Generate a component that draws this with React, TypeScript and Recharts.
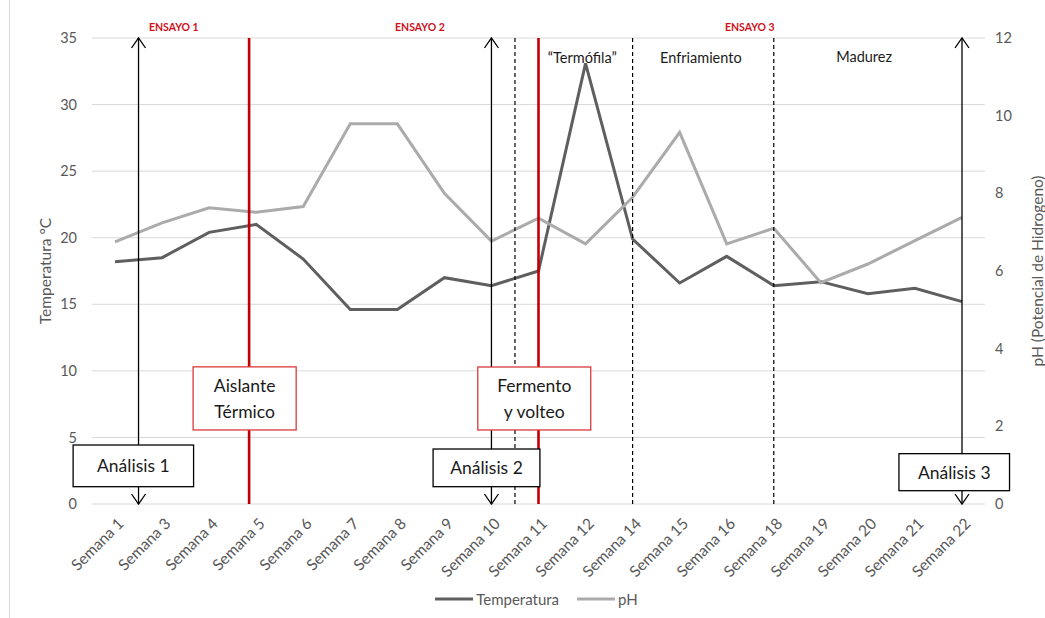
import React from 'react';
import {
  LineChart,
  Line,
  XAxis,
  YAxis,
  CartesianGrid,
  Legend,
  ReferenceLine,
  ReferenceArea,
  ReferenceDot,
} from 'recharts';

// Weeks on the x axis (category labels)
const weeks = [
  'Semana 1', 'Semana 3', 'Semana 4', 'Semana 5', 'Semana 6', 'Semana 7', 'Semana 8',
  'Semana 9', 'Semana 10', 'Semana 11', 'Semana 12', 'Semana 14', 'Semana 15',
  'Semana 16', 'Semana 18', 'Semana 19', 'Semana 20', 'Semana 21', 'Semana 22',
];

// Temperature (°C), left axis
const temperatura = [
  18.2, 18.5, 20.4, 21.0, 18.4, 14.6, 14.6, 17.0, 16.4, 17.5,
  33.1, 19.9, 16.6, 18.6, 16.4, 16.7, 15.8, 16.2, 15.2,
];

// pH, right axis
const ph = [
  6.75, 7.24, 7.63, 7.51, 7.66, 9.79, 9.79, 8.0, 6.77, 7.36,
  6.7, 7.9, 9.57, 6.7, 7.1, 5.7, 6.18, 6.78, 7.38,
];

const tempTicks = [0, 5, 10, 15, 20, 25, 30, 35];
const phTicks = [0, 2, 4, 6, 8, 10, 12];

// Annotation markers, expressed as week index (0 = Semana 1)
const analysisMarks = [0.5, 8, 18];
const redMarks = [2.85, 9];
const dashedMarks = [8.5, 11, 14];

const FONT = 'Lato, "Open Sans", sans-serif';
const GRAY = '#595959';
const TEMP_COLOR = '#5f5f5f';
const PH_COLOR = '#ababab';
const RED = '#c00000';
const PAD = { left: 23, right: 23 };

const data = weeks.map((semana, i) => ({
  semana,
  temperatura: temperatura[i],
  ph: ph[i],
}));

// annotation boxes: [x1, x2] in week index, [y1, y2] in °C
const boxes = [
  { lines: ['Análisis 1'], x: [-0.89, 1.67], y: [4.43, 1.3], color: '#000000' },
  { lines: ['Aislante', 'Térmico'], x: [1.66, 3.85], y: [10.3, 5.56], color: '#d93a3a' },
  { lines: ['Análisis 2'], x: [6.76, 9.03], y: [4.13, 1.3], color: '#000000' },
  { lines: ['Fermento', 'y volteo'], x: [7.71, 10.11], y: [10.29, 5.56], color: '#d93a3a' },
  { lines: ['Análisis 3'], x: [16.66, 19.01], y: [3.78, 1.0], color: '#000000' },
];

const phaseLabels = [
  { text: '\u201CTermófila\u201D', x: 9.93, y: 33.5 },
  { text: 'Enfriamiento', x: 12.45, y: 33.5 },
  { text: 'Madurez', x: 15.92, y: 33.6 },
];

const ensayoLabels = [
  { text: 'ENSAYO 1', x: 1.25, y: 35.8 },
  { text: 'ENSAYO 2', x: 6.48, y: 35.8 },
  { text: 'ENSAYO 3', x: 13.49, y: 35.8 },
];

const ArrowLine = (props: any) => {
  const { x1, y1, y2 } = props;
  const top = Math.min(y1, y2);
  const bottom = Math.max(y1, y2);
  return (
    <g>
      <line x1={x1} x2={x1} y1={top} y2={bottom} stroke="#000" strokeWidth={1.3} />
      <polyline
        points={`${x1 - 7},${top + 10} ${x1},${top} ${x1 + 7},${top + 10}`}
        fill="none"
        stroke="#000"
        strokeWidth={1.3}
      />
      <polyline
        points={`${x1 - 7},${bottom - 10} ${x1},${bottom} ${x1 + 7},${bottom - 10}`}
        fill="none"
        stroke="#000"
        strokeWidth={1.3}
      />
    </g>
  );
};

const makeBox = (lines: string[], color: string) => (props: any) => {
  const { x, y, width, height } = props;
  const cx = x + width / 2;
  const cy = y + height / 2;
  const lh = 26;
  return (
    <g>
      <rect x={x} y={y} width={width} height={height} fill="#fff" stroke={color} strokeWidth={1.3} />
      {lines.map((l, i) => (
        <text
          key={i}
          x={cx}
          y={cy + (i - (lines.length - 1) / 2) * lh}
          textAnchor="middle"
          dominantBaseline="central"
          fontFamily={FONT}
          fontSize={17.5}
          fill="#1a1a1a"
        >
          {l}
        </text>
      ))}
    </g>
  );
};

const WeekTick = (props: any) => {
  const { x, y, payload } = props;
  const ax = x + 2;
  const ay = y + 5;
  return (
    <text
      x={ax}
      y={ay}
      dy="0.7em"
      transform={`rotate(-45, ${ax}, ${ay})`}
      textAnchor="end"
      fill={GRAY}
      fontSize={15.5}
      fontFamily={FONT}
    >
      {payload.value}
    </text>
  );
};

const AxisTitle = ({ viewBox, value, dx }: any) => {
  const cx = viewBox.x + dx;
  const cy = viewBox.y + viewBox.height / 2;
  return (
    <text
      x={cx}
      y={cy}
      transform={`rotate(-90, ${cx}, ${cy})`}
      textAnchor="middle"
      dominantBaseline="central"
      fill={GRAY}
      fontSize={15.5}
      fontFamily={FONT}
    >
      {value}
    </text>
  );
};

const legendItems = [
  { name: 'Temperatura', color: TEMP_COLOR },
  { name: 'pH', color: PH_COLOR },
];

const renderLegend = () => (
  <div
    style={{
      display: 'flex',
      justifyContent: 'center',
      alignItems: 'center',
      gap: 18,
      height: 22,
      paddingLeft: 8,
      fontFamily: FONT,
      fontSize: 15,
      color: GRAY,
    }}
  >
    {legendItems.map((it) => (
      <div key={it.name} style={{ display: 'flex', alignItems: 'center' }}>
        <svg width={38} height={6}>
          <line x1={0} y1={3} x2={38} y2={3} stroke={it.color} strokeWidth={3} />
        </svg>
        <span style={{ marginLeft: 3 }}>{it.name}</span>
      </div>
    ))}
  </div>
);

export default function App() {
  return (
    <div style={{ position: 'absolute', left: 0, top: 0, width: 1045, height: 618, background: '#fff' }}>
      <div style={{ position: 'absolute', left: 9, top: 0, width: 1, height: 618, background: '#d9d9d9' }} />
      <LineChart
        width={1045}
        height={618}
        data={data}
        margin={{ top: 38, right: 0, bottom: 8, left: 20 }}
        style={{ fontFamily: FONT }}
      >
        <CartesianGrid xAxisId="cat" yAxisId="left" vertical={false} stroke="#d9d9d9" strokeWidth={1} />
        <XAxis
          xAxisId="cat"
          dataKey="semana"
          interval={0}
          padding={PAD}
          axisLine={false}
          tickLine={false}
          height={84}
          tick={<WeekTick />}
        />
        <XAxis
          xAxisId="num"
          type="number"
          domain={[0, weeks.length - 1]}
          padding={PAD}
          hide
          allowDataOverflow
        />
        <YAxis
          yAxisId="left"
          domain={[0, 35]}
          ticks={tempTicks}
          width={72}
          axisLine={false}
          tickLine={false}
          tickMargin={9}
          tick={{ fill: GRAY, fontSize: 14.5, fontFamily: FONT }}
          label={<AxisTitle value="Temperatura °C" dx={25} />}
        />
        <YAxis
          yAxisId="right"
          orientation="right"
          domain={[0, 12]}
          ticks={phTicks}
          width={60}
          axisLine={false}
          tickLine={false}
          tickMargin={4}
          tick={{ fill: GRAY, fontSize: 14.5, fontFamily: FONT }}
          label={<AxisTitle value="pH (Potencial de Hidrogeno)" dx={52} />}
        />
        <Legend verticalAlign="bottom" content={renderLegend} />

        <Line
          xAxisId="cat"
          yAxisId="left"
          dataKey="temperatura"
          name="Temperatura"
          stroke={TEMP_COLOR}
          strokeWidth={3}
          dot={false}
          isAnimationActive={false}
        />
        <Line
          xAxisId="cat"
          yAxisId="right"
          dataKey="ph"
          name="pH"
          stroke={PH_COLOR}
          strokeWidth={3}
          dot={false}
          isAnimationActive={false}
        />

        {dashedMarks.map((m) => (
          <ReferenceLine
            key={`d${m}`}
            xAxisId="num"
            yAxisId="left"
            x={m}
            stroke="#000"
            strokeWidth={1.2}
            strokeDasharray="4 3"
            zIndex={450}
          />
        ))}
        {redMarks.map((m) => (
          <ReferenceLine
            key={`r${m}`}
            xAxisId="num"
            yAxisId="left"
            x={m}
            stroke={RED}
            strokeWidth={2.6}
            zIndex={460}
          />
        ))}
        {analysisMarks.map((m) => (
          <ReferenceLine
            key={`a${m}`}
            xAxisId="num"
            yAxisId="left"
            x={m}
            shape={ArrowLine}
            zIndex={470}
          />
        ))}
        {boxes.map((b, i) => (
          <ReferenceArea
            key={`b${i}`}
            xAxisId="num"
            yAxisId="left"
            x1={b.x[0]}
            x2={b.x[1]}
            y1={b.y[0]}
            y2={b.y[1]}
            ifOverflow="visible"
            shape={makeBox(b.lines, b.color)}
            zIndex={1500}
          />
        ))}
        {phaseLabels.map((p) => (
          <ReferenceDot
            key={p.text}
            xAxisId="num"
            yAxisId="left"
            x={p.x}
            y={p.y}
            r={0}
            fill="none"
            stroke="none"
            ifOverflow="visible"
            label={{ value: p.text, position: 'center', fill: '#1a1a1a', fontSize: 14.5, fontFamily: FONT }}
          />
        ))}
        {ensayoLabels.map((p) => (
          <ReferenceDot
            key={p.text}
            xAxisId="num"
            yAxisId="left"
            x={p.x}
            y={p.y}
            r={0}
            fill="none"
            stroke="none"
            ifOverflow="visible"
            label={{
              value: p.text,
              position: 'center',
              fill: '#d0101a',
              fontSize: 10.5,
              fontWeight: 700,
              fontFamily: FONT,
            }}
          />
        ))}
      </LineChart>
    </div>
  );
}
